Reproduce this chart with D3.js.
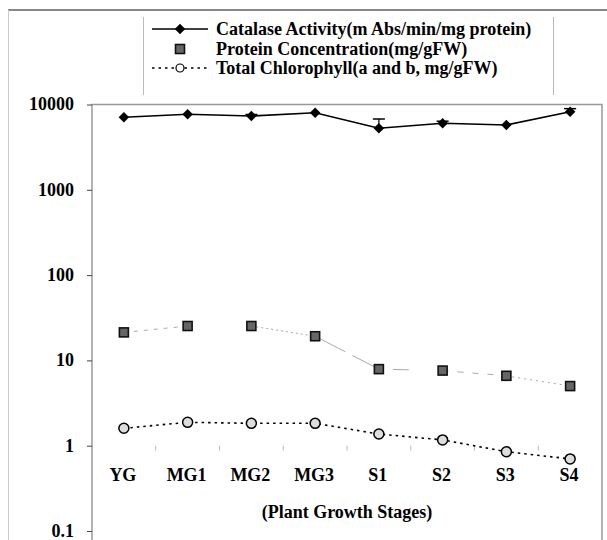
<!DOCTYPE html>
<html>
<head>
<meta charset="utf-8" />
<title>Plant Growth Stages</title>
<script src="https://cdn.jsdelivr.net/npm/d3@7"></script>
<style>
  body { margin: 0; background: #fff; }
</style>
</head>
<body>
<div id="chart"></div>
<script>
// data
const stages = ['YG', 'MG1', 'MG2', 'MG3', 'S1', 'S2', 'S3', 'S4'];
const catalase = [7080, 7680, 7330, 8010, 5260, 6020, 5750, 8240];
const catalaseErr = [0, 0, 300, 0, 1500, 350, 0, 700];
const protein = [21.3, 25.3, 25.3, 19.2, 7.9, 7.6, 6.6, 5.0];
const chlorophyll = [1.60, 1.88, 1.83, 1.83, 1.37, 1.17, 0.85, 0.70];
const yTicks = [0.1, 1, 10, 100, 1000, 10000];
const legendLabels = [
  'Catalase Activity(m Abs/min/mg protein)',
  'Protein Concentration(mg/gFW)',
  'Total Chlorophyll(a and b, mg/gFW)'
];

const width = 607;
const height = 540;
const plot = { left: 92, right: 602, top: 104.5, bottom: 531 };
const serif = "'Liberation Serif', 'Times New Roman', Tinos, 'DejaVu Serif', serif";

const svg = d3.select('#chart')
  .append('svg')
  .attr('width', width)
  .attr('height', height);

// helper for the bold serif labels
const label = sel => sel
  .attr('font-family', serif)
  .style('font-family', serif)
  .style('font-weight', 'bold')
  .style('font-size', '18px')
  .attr('fill', '#000');

// outer frame (top and left edges only are in view)
svg.append('line')
  .attr('x1', 8).attr('x2', width).attr('y1', 10).attr('y2', 10)
  .attr('stroke', '#888').attr('stroke-width', 2);
svg.append('line')
  .attr('x1', 8.5).attr('x2', 8.5).attr('y1', 10).attr('y2', height)
  .attr('stroke', '#ccc');

// scales
const x = d3.scaleBand()
  .domain(stages)
  .range([plot.left, plot.right]);

const y = d3.scaleLog()
  .domain([0.1, 10000])
  .range([plot.bottom, plot.top]);

const cx = d => x(d) + x.bandwidth() / 2;

// plot frame
svg.append('rect')
  .attr('x', plot.left).attr('y', plot.top)
  .attr('width', plot.right - plot.left)
  .attr('height', height - plot.top + 5)
  .attr('fill', 'none')
  .attr('stroke', '#999')
  .attr('stroke-width', 1.5);

// y axis
const yAxis = svg.append('g')
  .attr('transform', `translate(${plot.left},0)`)
  .call(d3.axisLeft(y).tickValues(yTicks).tickSize(5).tickPadding(13)
    .tickFormat(d3.format('~g')));
yAxis.select('.domain').remove();
yAxis.selectAll('.tick line').attr('stroke', '#444');
yAxis.selectAll('.tick text')
  .call(label)
  .attr('dy', '0.3em');

// category axis crosses at 1; only its tick marks show
const xAxis = svg.append('g')
  .attr('transform', `translate(0,${y(1)})`)
  .call(d3.axisBottom(x).tickSize(0).tickFormat(''));
xAxis.select('.domain').remove();
xAxis.selectAll('.boundary')
  .data(stages.slice(1))
  .enter()
  .append('line')
  .attr('x1', d => x(d)).attr('x2', d => x(d))
  .attr('y1', 0).attr('y2', 5)
  .attr('stroke', '#bbb');

// category labels
svg.selectAll('.stage')
  .data(stages)
  .enter()
  .append('text')
  .attr('x', d => cx(d) - 1)
  .attr('y', 481)
  .attr('text-anchor', 'middle')
  .call(label)
  .text(d => d);

svg.append('text')
  .attr('x', (plot.left + plot.right) / 2)
  .attr('y', 518)
  .attr('text-anchor', 'middle')
  .call(label)
  .text('(Plant Growth Stages)');

// protein: pale grey line, broken in odd patterns
const proteinDash = ['4,6', '0,200', '2,3', '34,8', '0,14,16,200', '6,9', '2,4'];
const proteinSeg = svg.append('g');
for (let i = 0; i < stages.length - 1; i++) {
  proteinSeg.append('line')
    .attr('x1', cx(stages[i])).attr('y1', y(protein[i]))
    .attr('x2', cx(stages[i + 1])).attr('y2', y(protein[i + 1]))
    .attr('stroke', '#aaa')
    .attr('stroke-width', 1)
    .attr('stroke-dasharray', proteinDash[i]);
}
svg.selectAll('.prot')
  .data(protein)
  .enter()
  .append('rect')
  .attr('x', (d, i) => cx(stages[i]) - 4.5)
  .attr('y', d => y(d) - 4.5)
  .attr('width', 9).attr('height', 9)
  .attr('fill', '#666')
  .attr('stroke', '#111')
  .attr('stroke-width', 1.6);

// chlorophyll: black dotted line, pale circles
const line = d3.line()
  .x((d, i) => cx(stages[i]))
  .y(d => y(d));

svg.append('path')
  .datum(chlorophyll)
  .attr('d', line)
  .attr('fill', 'none')
  .attr('stroke', '#000')
  .attr('stroke-width', 1.6)
  .attr('stroke-dasharray', '2.5,4');

svg.selectAll('.chl')
  .data(chlorophyll)
  .enter()
  .append('circle')
  .attr('cx', (d, i) => cx(stages[i]))
  .attr('cy', d => y(d))
  .attr('r', 5)
  .attr('fill', '#ddd')
  .attr('stroke', '#000')
  .attr('stroke-width', 1.5);

// catalase: solid black line, diamonds, upper error bars
svg.append('path')
  .datum(catalase)
  .attr('d', line)
  .attr('fill', 'none')
  .attr('stroke', '#000')
  .attr('stroke-width', 1.6);

const errs = svg.selectAll('.err')
  .data(catalase.map((v, i) => ({ v, e: catalaseErr[i], s: stages[i] })).filter(d => d.e > 0))
  .enter()
  .append('g');
errs.append('line')
  .attr('x1', d => cx(d.s)).attr('x2', d => cx(d.s))
  .attr('y1', d => y(d.v)).attr('y2', d => y(d.v + d.e))
  .attr('stroke', '#000').attr('stroke-width', 1.2);
errs.append('line')
  .attr('x1', d => cx(d.s) - 6).attr('x2', d => cx(d.s) + 6)
  .attr('y1', d => y(d.v + d.e)).attr('y2', d => y(d.v + d.e))
  .attr('stroke', '#000').attr('stroke-width', 1.5);

const diamond = d3.symbol().type(d3.symbolDiamond2).size(70);
svg.selectAll('.cat')
  .data(catalase)
  .enter()
  .append('path')
  .attr('d', diamond)
  .attr('transform', (d, i) => `translate(${cx(stages[i])},${y(d)})`)
  .attr('fill', '#000');

// legend
const legend = svg.append('g');
legend.append('line')
  .attr('x1', 143.5).attr('x2', 143.5).attr('y1', 17).attr('y2', 95)
  .attr('stroke', '#bbb');
legend.append('line')
  .attr('x1', 553.5).attr('x2', 553.5).attr('y1', 17).attr('y2', 95)
  .attr('stroke', '#bbb');

const rowY = [29, 49, 68];
legend.append('line')
  .attr('x1', 152).attr('x2', 208).attr('y1', rowY[0]).attr('y2', rowY[0])
  .attr('stroke', '#000').attr('stroke-width', 1.6);
legend.append('path')
  .attr('d', diamond)
  .attr('transform', `translate(180,${rowY[0]})`)
  .attr('fill', '#000');
legend.append('rect')
  .attr('x', 175.5).attr('y', rowY[1] - 4.5)
  .attr('width', 9).attr('height', 9)
  .attr('fill', '#666').attr('stroke', '#111').attr('stroke-width', 1.6);
legend.append('line')
  .attr('x1', 152).attr('x2', 208).attr('y1', rowY[2]).attr('y2', rowY[2])
  .attr('stroke', '#000').attr('stroke-width', 1.6)
  .attr('stroke-dasharray', '2.5,4');
legend.append('circle')
  .attr('cx', 180).attr('cy', rowY[2]).attr('r', 4)
  .attr('fill', '#fff').attr('stroke', '#000').attr('stroke-width', 1.2);

legend.selectAll('.lab')
  .data(legendLabels)
  .enter()
  .append('text')
  .attr('x', 216)
  .attr('y', (d, i) => rowY[i] + 6)
  .call(label)
  .text(d => d);
</script>
</body>
</html>
